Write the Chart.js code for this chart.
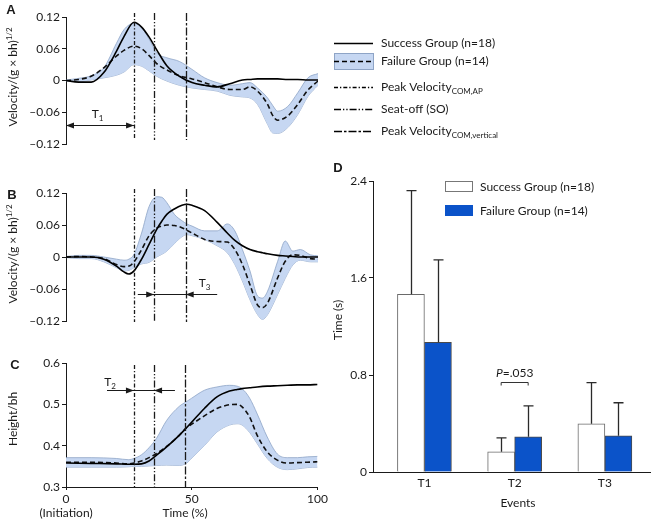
<!DOCTYPE html>
<html><head><meta charset="utf-8">
<script src="https://cdn.jsdelivr.net/npm/chart.js@4.4.1/dist/chart.umd.min.js"></script>
<style>
html,body{margin:0;padding:0;background:#fff}
#wrap{position:relative;width:656px;height:525px;overflow:hidden;font-family:Lato,'Open Sans',sans-serif;color:#1a1a1a}
canvas{position:absolute}
.t{position:absolute;white-space:nowrap;font-size:12px;line-height:14px;transform:translate(-50%,-50%)}
.rot{position:absolute;white-space:nowrap;font-size:12px;line-height:14px;transform:translate(-50%,-50%) rotate(-90deg)}
.pl{position:absolute;font-family:'Liberation Sans',Arial,sans-serif;font-weight:bold;font-size:13px;transform:translate(-50%,-50%)}
sup{font-size:8px;vertical-align:5px;line-height:0}
</style></head>
<body><div id="wrap">
<canvas id="cA" width="656" height="160" style="left:0;top:0;width:656px;height:160px"></canvas>
<canvas id="cB" width="330" height="170" style="left:0;top:165px;width:330px;height:170px"></canvas>
<canvas id="cC" width="330" height="190" style="left:0;top:335px;width:330px;height:190px"></canvas>
<canvas id="cD" width="326" height="375" style="left:330px;top:150px;width:326px;height:375px"></canvas>
<div class="pl" style="left:11px;top:9px">A</div>
<div class="pl" style="left:12px;top:194px">B</div>
<div class="pl" style="left:15px;top:364px">C</div>
<div class="pl" style="left:338px;top:167px">D</div>
<div class="rot" style="left:13px;top:77px">Velocity/(g × bh)<sup>1/2</sup></div>
<div class="rot" style="left:13px;top:254px">Velocity/(g × bh)<sup>1/2</sup></div>
<div class="rot" style="left:13px;top:419px">Height/bh</div>
<div class="t" style="left:185px;top:513px">Time (%)</div>
<div class="t" style="left:518px;top:503px">Events</div>
<div class="rot" style="left:338px;top:320px">Time (s)</div>
</div>
<script>
// ---------- data ----------
const eventTimes = [27, 35, 47.5];

const timeA = [0,5,10,15,20,23,27,30,33,36,40,45,50,55,60,65,70,73,76,80,82,84,88,92,96,100];
const successA = [0,-0.003,-0.003,0.015,0.055,0.083,0.110,0.101,0.082,0.058,0.028,0.008,-0.004,-0.009,-0.012,-0.006,0.001,0.002,0.003,0.003,0.003,0.003,0.002,0.002,0.001,0.001];
const failureA = [0,0.002,0.008,0.024,0.046,0.057,0.065,0.060,0.047,0.032,0.020,0.009,0.003,-0.004,-0.012,-0.017,-0.017,-0.012,-0.020,-0.045,-0.066,-0.075,-0.067,-0.045,-0.018,-0.001];
const upperA = [0.001,0.004,0.009,0.024,0.070,0.096,0.108,0.100,0.078,0.052,0.043,0.036,0.021,0.005,-0.004,-0.009,-0.006,-0.004,-0.014,-0.033,-0.047,-0.058,-0.049,-0.023,0.005,0.013];
const lowerA = [-0.001,-0.002,0.001,0.005,0.010,0.016,0.030,0.027,0.018,0.008,-0.001,-0.009,-0.014,-0.017,-0.020,-0.028,-0.031,-0.033,-0.045,-0.083,-0.099,-0.100,-0.089,-0.064,-0.030,-0.009];

const timeB = [0,5,10,15,20,23,25,27,30,33,36,38,40,43,46,48,50,55,60,64,67,70,73,76,78,80,84,87,90,93,97,100];
const successB = [0,0,0,-0.004,-0.017,-0.028,-0.032,-0.026,-0.004,0.024,0.052,0.067,0.080,0.090,0.097,0.099,0.097,0.087,0.065,0.045,0.031,0.021,0.014,0.010,0.008,0.006,0.003,0.002,0.001,0,0,0];
const failureB = [0,0.001,0,-0.003,-0.014,-0.018,-0.017,-0.009,0.014,0.040,0.054,0.058,0.060,0.059,0.055,0.050,0.045,0.033,0.029,0.028,0.014,-0.014,-0.052,-0.090,-0.095,-0.086,-0.039,-0.008,0.004,0.003,-0.003,-0.004];
const upperB = [0.001,0.003,0.003,0,-0.004,-0.006,-0.004,0.005,0.045,0.095,0.113,0.112,0.102,0.080,0.068,0.062,0.058,0.049,0.049,0.062,0.049,0.014,-0.026,-0.073,-0.077,-0.064,-0.008,0.030,0.011,0.014,0.004,0.002];
const lowerB = [-0.001,-0.003,-0.003,-0.009,-0.020,-0.026,-0.025,-0.020,-0.013,-0.010,0.000,0.005,0.011,0.025,0.038,0.042,0.040,0.033,0.021,0.008,-0.014,-0.045,-0.080,-0.108,-0.117,-0.108,-0.070,-0.040,-0.015,-0.006,-0.009,-0.009];

const timeC = [0,10,20,25,27,30,33,36,40,45,48,50,55,60,65,68,70,73,76,80,84,88,92,96,100];
const successC = [0.358,0.357,0.356,0.355,0.355,0.356,0.363,0.377,0.397,0.425,0.444,0.457,0.490,0.518,0.532,0.536,0.538,0.540,0.542,0.544,0.545,0.546,0.547,0.547,0.548];
const failureC = [0.360,0.360,0.358,0.356,0.358,0.363,0.371,0.381,0.398,0.425,0.444,0.452,0.472,0.490,0.499,0.500,0.494,0.469,0.425,0.385,0.365,0.358,0.359,0.360,0.361];
const upperC = [0.371,0.371,0.369,0.366,0.369,0.378,0.395,0.418,0.461,0.495,0.507,0.515,0.534,0.542,0.546,0.544,0.538,0.515,0.477,0.421,0.380,0.371,0.371,0.373,0.374];
const lowerC = [0.348,0.348,0.348,0.349,0.350,0.350,0.351,0.352,0.353,0.352,0.358,0.370,0.400,0.433,0.450,0.453,0.450,0.432,0.405,0.369,0.348,0.342,0.344,0.347,0.348];

const velTicks = [-0.12,-0.06,0,0.06,0.12];
const velTickLabels = ['\u20130.12','\u20130.06','0','0.06','0.12'];
const heightTicks = [0.3,0.4,0.5,0.6];
const heightTickLabels = ['0.3','0.4','0.5','0.6'];
const timeTicks = [0,50,100];
const timeTickLabels = [['0','(Initiation)'],'50','100'];

const categories = ['T1','T2','T3'];
const successMean = [1.465,0.166,0.397];
const successSD = [0.855,0.115,0.340];
const failureMean = [1.07,0.29,0.298];
const failureSD = [0.68,0.256,0.273];
const barTicks = [0,0.8,1.6,2.4];
const barTickLabels = ['0','0.8','1.6','2.4'];

// ---------- styles ----------
const BAND_FILL = '#c6d7f2';
const BAND_EDGE = '#8ea4c6';
const INK = '#1a1a1a';
const eventDash = [[4,2,1.3,2],[7,2,1.3,2,1.3,2],[8,2,2.5,2]];
const FONT = "Lato, 'Open Sans', sans-serif";

Chart.defaults.font.family = FONT;
Chart.defaults.font.size = 12;
Chart.defaults.color = INK;
Chart.defaults.animation = false;
Chart.defaults.plugins.legend.display = false;
Chart.defaults.plugins.tooltip.enabled = false;

function richText(ctx, x, y, parts, align) {
  // parts: [text, isSub]
  let w = 0;
  parts.forEach(p => { ctx.font = (p[1] ? '8px ' : '12px ') + FONT; w += ctx.measureText(p[0]).width; });
  let cx = align === 'center' ? x - w / 2 : x;
  ctx.textBaseline = 'alphabetic'; ctx.textAlign = 'left';
  parts.forEach(p => {
    ctx.font = (p[1] ? '8px ' : '12px ') + FONT;
    ctx.fillText(p[0], cx, y + (p[1] ? 3 : 0));
    cx += ctx.measureText(p[0]).width;
  });
}

function annotPlugin(ann, topExt, botExt) {
  return {
    id: 'annot',
    afterDatasetsDraw(chart) {
      const {ctx, chartArea: a, scales: {x, y}} = chart;
      ctx.save();
      ctx.strokeStyle = INK; ctx.lineWidth = 1.3;
      eventTimes.forEach((t, i) => {
        const px = Math.round(x.getPixelForValue(t)) + 0.5;
        ctx.setLineDash(eventDash[i]);
        ctx.beginPath(); ctx.moveTo(px, a.top - topExt); ctx.lineTo(px, a.bottom + botExt); ctx.stroke();
      });
      ctx.setLineDash([]);
      const py = Math.round(y.getPixelForValue(ann.y)) + 0.5;
      ctx.lineWidth = 1;
      ctx.beginPath(); ctx.moveTo(x.getPixelForValue(ann.from), py); ctx.lineTo(x.getPixelForValue(ann.to), py); ctx.stroke();
      ctx.fillStyle = INK;
      ann.heads.forEach(h => {
        const hx = x.getPixelForValue(h[0]), d = h[1];
        ctx.beginPath(); ctx.moveTo(hx, py); ctx.lineTo(hx - d * 8, py - 3); ctx.lineTo(hx - d * 8, py + 3); ctx.closePath(); ctx.fill();
      });
      richText(ctx, x.getPixelForValue(ann.lx), y.getPixelForValue(ann.ly) + 4, [[ann.label[0], 0], [ann.label[1], 1]], 'center');
      ctx.restore();
    }
  };
}

function linePanel(canvasId, time, succ, fail, up, lo, yMin, yMax, ticks, tickLabels, layout, ann, ext, xAxis) {
  const pts = arr => arr.map((v, i) => ({x: time[i], y: v}));
  const datasets = [
    {data: pts(succ), borderColor: '#000', borderWidth: 1.6},
    {data: pts(fail), borderColor: '#111', borderWidth: 1.6, borderDash: [5, 3]},
    {data: pts(up), borderColor: BAND_EDGE, borderWidth: 0.8, fill: '+1', backgroundColor: BAND_FILL},
    {data: pts(lo), borderColor: BAND_EDGE, borderWidth: 0.8, fill: false}
  ];
  datasets.forEach(d => { d.pointRadius = 0; d.cubicInterpolationMode = 'monotone'; });
  const xScale = xAxis ? {
    type: 'linear', min: 0, max: 100,
    afterBuildTicks: s => { s.ticks = timeTicks.map(v => ({value: v})); },
    ticks: {callback: (v, i) => timeTickLabels[i], padding: 2, maxRotation: 0},
    grid: {drawOnChartArea: false, tickLength: 3, color: INK},
    border: {color: INK, width: 1},
    afterFit: s => { s.height = 38; }
  } : {type: 'linear', min: 0, max: 100, display: false};
  return new Chart(document.getElementById(canvasId), {
    type: 'line',
    data: {datasets},
    options: {
      responsive: false, devicePixelRatio: 1,
      layout: {padding: layout, autoPadding: false},
      scales: {
        x: xScale,
        y: {
          min: yMin, max: yMax,
          afterBuildTicks: s => { s.ticks = ticks.map(v => ({value: v})); },
          ticks: {callback: (v, i) => tickLabels[i], padding: 2},
          grid: {drawOnChartArea: false, tickLength: 4, color: INK},
          border: {color: INK, width: 1},
          afterFit: s => { s.width = 66; }
        }
      }
    },
    plugins: [annotPlugin(ann, ext[0], ext[1])].concat(canvasId === 'cA' ? [legendPlugin] : [])
  });
}

const legendRows = [
  {y: 43, type: 'solid', text: [['Success Group (n=18)', 0]]},
  {y: 61, type: 'band', text: [['Failure Group (n=14)', 0]]},
  {y: 87, type: 0, text: [['Peak Velocity', 0], ['COM,AP', 1]]},
  {y: 109, type: 1, text: [['Seat-off (SO)', 0]]},
  {y: 131, type: 2, text: [['Peak Velocity', 0], ['COM,vertical', 1]]}
];
const legendPlugin = {
  id: 'legendA',
  afterDraw(chart) {
    const ctx = chart.ctx;
    ctx.save();
    legendRows.forEach(r => {
      const y = Math.round(r.y) + 0.5;
      ctx.strokeStyle = '#000'; ctx.setLineDash([]); ctx.lineWidth = 1.5;
      if (r.type === 'band') {
        ctx.fillStyle = BAND_FILL; ctx.fillRect(334, r.y - 8, 39, 16);
        ctx.strokeStyle = BAND_EDGE; ctx.lineWidth = 1; ctx.strokeRect(334.5, r.y - 7.5, 39, 16);
        ctx.strokeStyle = '#000'; ctx.lineWidth = 1.6; ctx.setLineDash([5, 3]);
      } else if (r.type !== 'solid') {
        ctx.lineWidth = 1.3; ctx.setLineDash(eventDash[r.type]);
      }
      ctx.beginPath(); ctx.moveTo(334, y); ctx.lineTo(373, y); ctx.stroke();
      ctx.fillStyle = INK;
      richText(ctx, 381, r.y + 4, r.text, 'left');
    });
    ctx.restore();
  }
};

linePanel('cA', timeA, successA, failureA, upperA, lowerA, -0.12, 0.12, velTicks, velTickLabels,
  {left: 0, right: 338, top: 17, bottom: 16},
  {from: 0, to: 27, y: -0.084, heads: [[0, -1], [27, 1]], label: ['T', '1'], lx: 12.5, ly: -0.064}, [4, -4], false);

linePanel('cB', timeB, successB, failureB, upperB, lowerB, -0.12, 0.12, velTicks, velTickLabels,
  {left: 0, right: 12, top: 28, bottom: 14},
  {from: 28.5, to: 60, y: -0.069, heads: [[35, 1], [47.5, -1]], label: ['T', '3'], lx: 55, ly: -0.049}, [4, 1], false);

linePanel('cC', timeC, successC, failureC, upperC, lowerC, 0.3, 0.6, heightTicks, heightTickLabels,
  {left: 0, right: 12, top: 28, bottom: 0},
  {from: 16.3, to: 43.3, y: 0.534, heads: [[27, 1], [35, -1]], label: ['T', '2'], lx: 17.5, ly: 0.554}, [-2, 0], true);

// ---------- panel D ----------
const barPlugin = {
  id: 'errbars',
  afterDatasetsDraw(chart) {
    const {ctx, scales: {y}} = chart;
    const means = [successMean, failureMean], sds = [successSD, failureSD];
    ctx.save();
    ctx.strokeStyle = '#2a2a2a'; ctx.lineWidth = 1.3;
    sds.forEach((sd, di) => {
      chart.getDatasetMeta(di).data.forEach((bar, i) => {
        const top = y.getPixelForValue(means[di][i] + sd[i]);
        const bx = Math.round(bar.x) + 0.5;
        ctx.beginPath();
        ctx.moveTo(bx, bar.y); ctx.lineTo(bx, top);
        ctx.moveTo(bx - 5, top); ctx.lineTo(bx + 5, top);
        ctx.stroke();
      });
    });
    // P bracket on T2
    const b1 = chart.getDatasetMeta(0).data[1], b2 = chart.getDatasetMeta(1).data[1];
    const py = Math.round(y.getPixelForValue(0.745)) + 0.5;
    ctx.lineWidth = 1; ctx.strokeStyle = '#333';
    ctx.beginPath(); ctx.moveTo(b1.x, py + 3); ctx.lineTo(b1.x, py); ctx.lineTo(b2.x, py); ctx.lineTo(b2.x, py + 3); ctx.stroke();
    const cx = (b1.x + b2.x) / 2;
    ctx.fillStyle = INK; ctx.textBaseline = 'alphabetic';
    ctx.font = 'italic 12px ' + FONT; const wP = ctx.measureText('P').width;
    ctx.font = '12px ' + FONT; const wR = ctx.measureText('=.053').width;
    const sx = cx - (wP + wR) / 2;
    ctx.font = 'italic 12px ' + FONT; ctx.fillText('P', sx, py - 6);
    ctx.font = '12px ' + FONT; ctx.fillText('=.053', sx + wP, py - 6);
    // legend
    const rows = [[chart.data.datasets[0], 36.5], [chart.data.datasets[1], 60.5]];
    rows.forEach(([ds, yy]) => {
      ctx.fillStyle = ds.backgroundColor; ctx.fillRect(115, yy - 5.5, 28, 11);
      ctx.strokeStyle = ds.legendEdge; ctx.lineWidth = 1; ctx.strokeRect(115.5, yy - 5, 27, 10);
      ctx.fillStyle = INK; ctx.font = '12px ' + FONT; ctx.fillText(ds.label, 150, yy + 4);
    });
    ctx.restore();
  }
};

new Chart(document.getElementById('cD'), {
  type: 'bar',
  data: {datasets: [
    {label: 'Success Group (n=18)', data: categories.map((c, i) => ({x: i + 1, y: successMean[i]})),
     backgroundColor: '#ffffff', borderColor: '#6a6a6a', borderWidth: 1, barThickness: 27, legendEdge: '#777'},
    {label: 'Failure Group (n=14)', data: categories.map((c, i) => ({x: i + 1, y: failureMean[i]})),
     backgroundColor: '#0b53c9', borderColor: '#4a4a4a', borderWidth: 1, barThickness: 27, legendEdge: '#0b53c9'}
  ]},
  options: {
    responsive: false, devicePixelRatio: 1,
    layout: {padding: {left: 0, right: 6, top: 31, bottom: 0}, autoPadding: false},
    scales: {
      x: {
        type: 'linear', min: 0.43, max: 3.5, offset: false,
        afterBuildTicks: s => { s.ticks = categories.map((c, i) => ({value: i + 1})); },
        ticks: {callback: (v, i) => categories[i], padding: 4, maxRotation: 0},
        grid: {display: false, drawTicks: false, offset: false},
        border: {display: true, color: INK, width: 1},
        afterFit: s => { s.height = 53; }
      },
      y: {
        min: 0, max: 2.4,
        afterBuildTicks: s => { s.ticks = barTicks.map(v => ({value: v})); },
        ticks: {callback: (v, i) => barTickLabels[i], padding: 2},
        grid: {drawOnChartArea: false, tickLength: 4, color: INK},
        border: {color: INK, width: 1},
        afterFit: s => { s.width = 43; }
      }
    }
  },
  plugins: [barPlugin]
});
</script>
</body></html>
